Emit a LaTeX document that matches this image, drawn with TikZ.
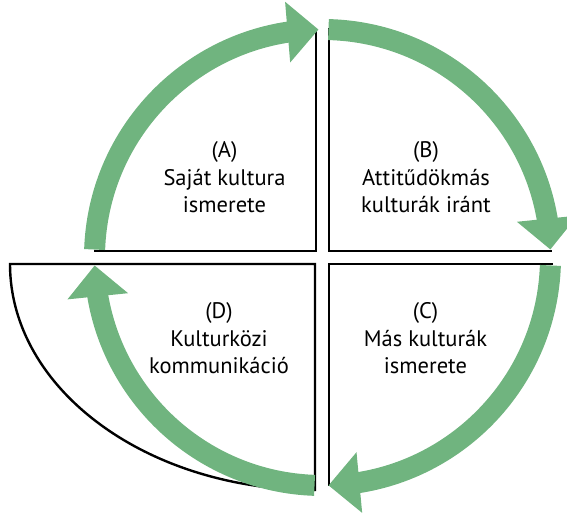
\documentclass[tikz,border=0pt]{standalone}
\usepackage{fontspec}
\setmainfont{PT Sans}
\usetikzlibrary{arrows.meta,bending}
\definecolor{cyclegreen}{RGB}{112,180,127}
\begin{document}
\begin{tikzpicture}[x=1pt,y=1pt,
  quadline/.style={draw=black, line width=2.4pt},
  cyclearrow/.style={draw=cyclegreen, line width=21pt,
    -{Triangle[width=59pt,length=31pt]}},
  quadtext/.style={font=\fontsize{22.5}{27.5}\selectfont, align=center}]
\useasboundingbox (0,0) rectangle (567,513);
\coordinate (O) at (322.5,255.5);

% quadrant outlines
\draw[quadline] (94,262) -- (316,262) -- (316,485);
\draw[quadline] (329,485) -- (329,262) -- (552,262);
\draw[quadline] (553,249) -- (329,249) -- (329,27);
\draw[quadline] (315,249) -- (10,249)
  arc[start angle=180, end angle=270, x radius=305, y radius=226] -- cycle;

% cycle of arrows
\draw[cyclearrow] ([shift={(178:228)}]O) arc[start angle=178, end angle=91, radius=228];
\draw[cyclearrow] ([shift={(88.5:228)}]O) arc[start angle=88.5, end angle=2, radius=228];
\draw[cyclearrow] ([shift={(-2:228)}]O) arc[start angle=-2, end angle=-88.5, radius=228];
\draw[cyclearrow] ([shift={(-92:228)}]O) arc[start angle=-92, end angle=-178, radius=228];

% quadrant texts
\node[quadtext] (A) at (224.5,335.5) {(A)\\Saját kultura\\ismerete};
\node[quadtext] (B) at (426,335.5) {(B)\\Attitűdökmás\\kulturák iránt};
\node[quadtext] (C) at (425.5,174.5) {(C)\\Más kulturák\\ismerete};
\node[quadtext] (D) at (219,174.5) {(D)\\Kulturközi\\kommunikáció};
\end{tikzpicture}
\end{document}
